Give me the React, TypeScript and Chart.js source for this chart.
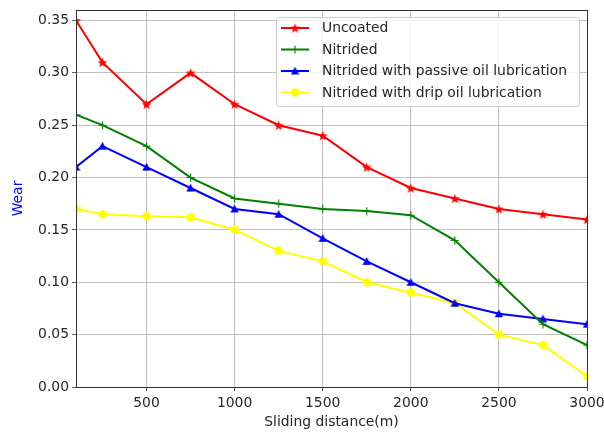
import React, { useEffect, useRef } from 'react';
import { Chart, registerables } from 'chart.js';

Chart.register(...registerables);

const distances = [100, 250, 500, 750, 1000, 1250, 1500, 1750, 2000, 2250, 2500, 2750, 3000];
const uncoated = [0.35, 0.31, 0.27, 0.30, 0.27, 0.25, 0.24, 0.21, 0.19, 0.18, 0.17, 0.165, 0.16];
const nitrided = [0.26, 0.25, 0.23, 0.20, 0.18, 0.175, 0.17, 0.168, 0.164, 0.14, 0.10, 0.06, 0.04];
const passiveOil = [0.21, 0.23, 0.21, 0.19, 0.17, 0.165, 0.142, 0.12, 0.10, 0.08, 0.07, 0.065, 0.06];
const dripOil = [0.17, 0.165, 0.163, 0.162, 0.15, 0.13, 0.12, 0.10, 0.09, 0.08, 0.05, 0.04, 0.01];
const seriesLabels = [
  'Uncoated',
  'Nitrided',
  'Nitrided with passive oil lubrication',
  'Nitrided with drip oil lubrication',
];
const seriesColors = ['#ff0000', '#008000', '#0000ff', '#ffff00'];
const seriesMarkers = ['star', 'plus', 'triangle', 'circle'];
const xTicks = [500, 1000, 1500, 2000, 2500, 3000];
const yTicks = [0, 0.05, 0.1, 0.15, 0.2, 0.25, 0.3, 0.35];

const FONT = 'DejaVu Sans';
const FS = 13.9;

function makeMarker(kind: string, color: string): HTMLCanvasElement {
  const size = kind === 'star' ? 11 : 9;
  const c = document.createElement('canvas');
  c.width = size;
  c.height = size;
  const ctx = c.getContext('2d')!;
  const r = size / 2;
  ctx.fillStyle = color;
  ctx.strokeStyle = color;
  ctx.beginPath();
  if (kind === 'star') {
    const outer = r - 0.3;
    const inner = outer * 0.42;
    for (let i = 0; i < 10; i++) {
      const rad = i % 2 === 0 ? outer : inner;
      const a = -Math.PI / 2 + (i * Math.PI) / 5;
      const px = r + rad * Math.cos(a);
      const py = r + 0.6 + rad * Math.sin(a);
      if (i === 0) ctx.moveTo(px, py);
      else ctx.lineTo(px, py);
    }
    ctx.closePath();
    ctx.fill();
  } else if (kind === 'plus') {
    ctx.lineWidth = 1.2;
    ctx.moveTo(r, 0.5);
    ctx.lineTo(r, size - 0.5);
    ctx.moveTo(0.5, r);
    ctx.lineTo(size - 0.5, r);
    ctx.stroke();
  } else if (kind === 'triangle') {
    ctx.moveTo(r, 0.3);
    ctx.lineTo(size - 0.3, size - 1);
    ctx.lineTo(0.3, size - 1);
    ctx.closePath();
    ctx.fill();
  } else {
    ctx.arc(r, r, r - 0.3, 0, Math.PI * 2);
    ctx.fill();
  }
  return c;
}

export default function App() {
  const ref = useRef<HTMLCanvasElement | null>(null);

  useEffect(() => {
    document.body.style.margin = '0';
    const canvas = ref.current;
    if (!canvas) return;
    const markers = seriesMarkers.map((m, i) => makeMarker(m, seriesColors[i]));
    const seriesData = [uncoated, nitrided, passiveOil, dripOil];

    const frameAndLegend = {
      id: 'frameAndLegend',
      afterDraw(chart: any) {
        const { ctx, chartArea } = chart;
        ctx.save();
        ctx.strokeStyle = '#333333';
        ctx.lineWidth = 1;
        ctx.strokeRect(
          Math.round(chartArea.left) + 0.5,
          Math.round(chartArea.top) + 0.5,
          Math.round(chartArea.right - chartArea.left),
          Math.round(chartArea.bottom - chartArea.top)
        );
        // legend
        const bx = 276.5, by = 17.5, bw = 303, bh = 89, rad = 3;
        ctx.beginPath();
        ctx.moveTo(bx + rad, by);
        ctx.lineTo(bx + bw - rad, by);
        ctx.arcTo(bx + bw, by, bx + bw, by + rad, rad);
        ctx.lineTo(bx + bw, by + bh - rad);
        ctx.arcTo(bx + bw, by + bh, bx + bw - rad, by + bh, rad);
        ctx.lineTo(bx + rad, by + bh);
        ctx.arcTo(bx, by + bh, bx, by + bh - rad, rad);
        ctx.lineTo(bx, by + rad);
        ctx.arcTo(bx, by, bx + rad, by, rad);
        ctx.closePath();
        ctx.fillStyle = 'rgba(255,255,255,0.8)';
        ctx.fill();
        ctx.strokeStyle = '#cccccc';
        ctx.stroke();
        ctx.font = `${FS}px "${FONT}"`;
        ctx.textBaseline = 'middle';
        ctx.textAlign = 'left';
        seriesLabels.forEach((label, i) => {
          const y = 28 + i * 21.5;
          ctx.strokeStyle = seriesColors[i];
          ctx.lineWidth = 2;
          ctx.beginPath();
          ctx.moveTo(281, y);
          ctx.lineTo(309, y);
          ctx.stroke();
          const m = markers[i];
          ctx.drawImage(m, 295 - m.width / 2, y - m.height / 2);
          ctx.fillStyle = '#262626';
          ctx.fillText(label, 322, y + 0.5);
        });
        ctx.restore();
      },
    };

    const chart = new Chart(canvas, {
      type: 'line',
      data: {
        datasets: seriesLabels.map((label, i) => ({
          label,
          data: distances.map((d, j) => ({ x: d, y: seriesData[i][j] })),
          borderColor: seriesColors[i],
          backgroundColor: seriesColors[i],
          borderWidth: 2,
          pointStyle: markers[i] as any,
          pointRadius: 4,
          pointHoverRadius: 4,
          tension: 0,
          fill: false,
        })),
      },
      options: {
        animation: false,
        responsive: false,
        devicePixelRatio: 1,
        layout: { padding: { left: 0, right: 17, top: 10, bottom: 0 } },
        plugins: {
          legend: { display: false },
          tooltip: { enabled: false },
        },
        scales: {
          x: {
            type: 'linear',
            min: 100,
            max: 3000,
            afterBuildTicks: (scale: any) => {
              scale.ticks = xTicks.map((v) => ({ value: v }));
            },
            afterFit: (scale: any) => {
              scale.height = 48;
              scale.paddingLeft = 0;
              scale.paddingRight = 0;
            },
            ticks: {
              font: { family: FONT, size: FS },
              color: '#262626',
              padding: 4,
              maxRotation: 0,
              callback: (v: any) => String(v),
            },
            grid: {
              color: '#b0b0b0',
              lineWidth: 0.8,
              tickLength: 4,
              tickColor: '#333333',
            },
            border: { display: false },
            title: {
              display: true,
              text: 'Sliding distance(m)',
              font: { family: FONT, size: FS },
              color: '#262626',
              padding: { top: 0, bottom: 4.6 },
            },
          },
          y: {
            type: 'linear',
            min: 0,
            max: 0.36,
            afterBuildTicks: (scale: any) => {
              scale.ticks = yTicks.map((v) => ({ value: v }));
            },
            afterFit: (scale: any) => {
              scale.width = 76;
              scale.paddingTop = 0;
              scale.paddingBottom = 0;
            },
            ticks: {
              font: { family: FONT, size: FS },
              color: '#262626',
              padding: 3,
              callback: (v: any) => Number(v).toFixed(2),
            },
            grid: {
              color: '#b0b0b0',
              lineWidth: 0.8,
              tickLength: 4,
              tickColor: '#333333',
            },
            border: { display: false },
            title: {
              display: true,
              text: 'Wear',
              font: { family: FONT, size: FS },
              color: '#0000ff',
              padding: { top: 9.6, bottom: 0 },
            },
          },
        },
      },
      plugins: [frameAndLegend],
    } as any);

    return () => chart.destroy();
  }, []);

  return <canvas ref={ref} width={604} height={435} style={{ display: 'block', width: 604, height: 435 }} />;
}
